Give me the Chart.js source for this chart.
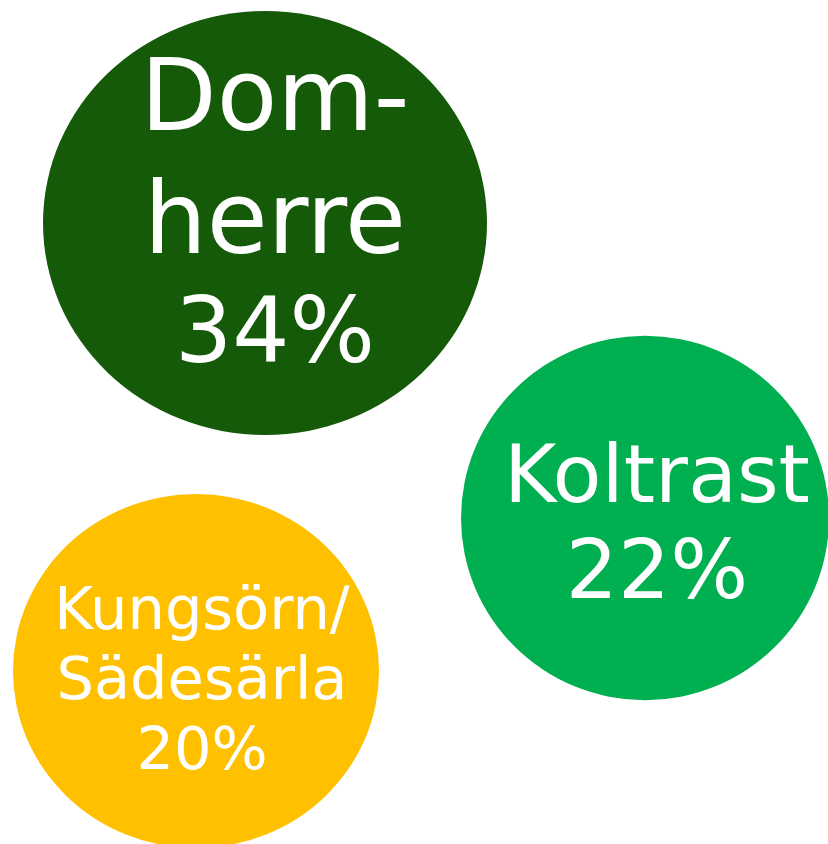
<!DOCTYPE html>
<html>
<head>
<meta charset="utf-8">
<script src="https://cdn.jsdelivr.net/npm/chart.js@4/dist/chart.umd.min.js"></script>
<style>
  html, body { margin: 0; padding: 0; background: #fff; }
  #wrap { width: 828px; height: 844px; }
</style>
</head>
<body>
<div id="wrap"><canvas id="bubbles" width="828" height="844"></canvas></div>
<script>
// data
let birds = [["Dom-", "herre"], ["Koltrast"], ["Kungsörn/", "Sädesärla"]];
let shares = [34, 22, 20];
let posX = [265, 645, 196];
let posY = [223, 518, 671];
let radius = [222, 184, 183];
let colors = ['#155a08', '#00af50', '#ffc000'];

// the bubbles in the picture are slightly flattened ovals
let squash = [0.955, 0.99, 0.967];

// text layout for each bubble: font sizes per line, baseline offset from centre, x shift
let textStyle = [
  { sizes: [99, 99, 90], offsets: [-93, 30, 139], dx: 10 },
  { sizes: [80, 82], offsets: [-16, 80], dx: 12 },
  { sizes: [59, 59, 59], offsets: [-42, 28, 98], dx: 6 }
];

let datasets = birds.map((b, i) => ({
  label: b.join(''),
  data: [{ x: posX[i], y: posY[i], r: radius[i] }],
  backgroundColor: colors[i],
  borderWidth: 0,
  hoverRadius: 0,
  clip: false
}));

let ovals = {
  id: 'ovals',
  beforeDatasetDraw(chart, args) {
    let el = chart.getDatasetMeta(args.index).data[0];
    let ctx = chart.ctx;
    ctx.save();
    ctx.translate(el.x, el.y);
    ctx.scale(1, squash[args.index]);
    ctx.translate(-el.x, -el.y);
  },
  afterDatasetDraw(chart) {
    chart.ctx.restore();
  }
};

let bubbleText = {
  id: 'bubbleText',
  afterDatasetsDraw(chart) {
    let ctx = chart.ctx;
    ctx.save();
    ctx.fillStyle = '#ffffff';
    ctx.textAlign = 'center';
    ctx.textBaseline = 'alphabetic';
    birds.forEach((b, i) => {
      let el = chart.getDatasetMeta(i).data[0];
      let lines = b.concat([shares[i] + '%']);
      let st = textStyle[i];
      lines.forEach((txt, j) => {
        ctx.font = st.sizes[j] + 'px "DejaVu Sans", Verdana, sans-serif';
        ctx.fillText(txt, el.x + st.dx, el.y + st.offsets[j]);
      });
    });
    ctx.restore();
  }
};

new Chart(document.getElementById('bubbles'), {
  type: 'bubble',
  data: { datasets: datasets },
  options: {
    responsive: false,
    animation: false,
    events: [],
    layout: { padding: 0, autoPadding: false },
    scales: {
      x: { type: 'linear', min: 0, max: 828, display: false },
      y: { type: 'linear', min: 0, max: 844, reverse: true, display: false }
    },
    plugins: {
      legend: { display: false },
      tooltip: { enabled: false }
    }
  },
  plugins: [ovals, bubbleText]
});
</script>
</body>
</html>
